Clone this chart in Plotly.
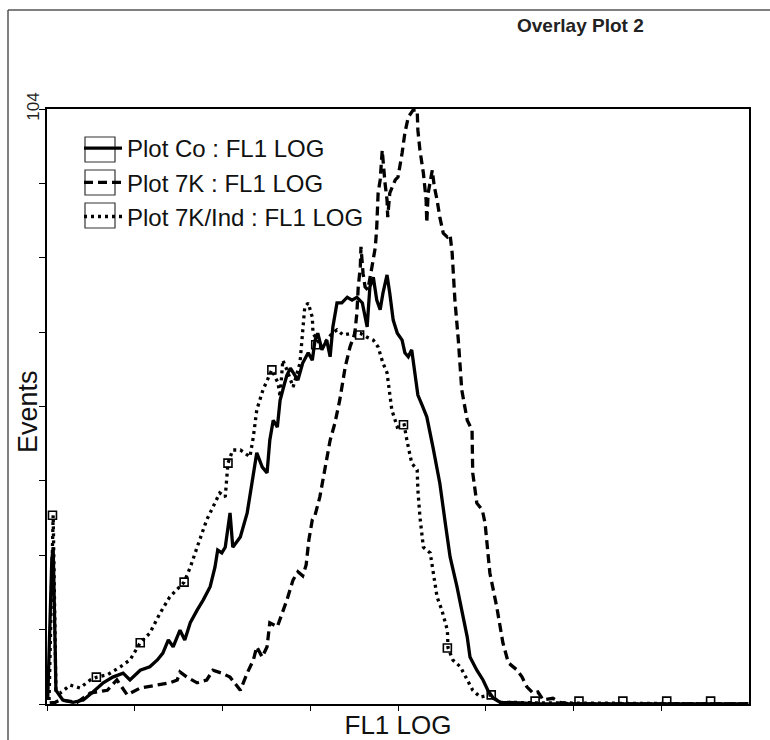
import plotly.graph_objects as go

# ---- data (channel 0-1023, events) ----
co_x = [1,4,7,9,10,12,13,16,23,38,53,67,82,96,111,121,136,150,161,169,177,184,194,201,209,219,228,238,245,249,255,260,267,271,282,292,301,306,314,321,325,330,336,340,346,350,355,359,366,373,381,387,391,395,401,408,413,417,423,430,438,445,452,460,464,467,471,476,481,486,490,496,500,505,511,518,522,527,532,537,541,547,554,563,573,581,588,598,607,613,617,627,636,643,651,661,690,719,1023]
co_y = [0.7,11.2,25.2,27.4,18.2,9.4,2.4,1.9,0.7,0.3,0.7,2.1,3.7,4.7,5.4,4.2,5.9,6.5,7.7,8.9,11.2,10.0,12.9,11.2,14.2,16.4,18.2,20.5,23.9,26.9,26.4,27.4,33.4,27.4,29.2,33.4,40.4,43.9,41.4,40.4,46.1,49.6,48.4,53.1,55.8,57.5,58.7,58.0,56.6,59.6,61.4,60.1,63.6,64.8,61.9,63.6,60.7,65.9,70.1,70.1,71.1,70.6,71.1,70.1,67.6,65.9,72.9,74.6,70.6,68.9,71.8,75.0,71.8,67.1,64.8,63.6,61.4,60.7,61.9,57.5,54.0,52.3,50.2,44.9,38.6,31.6,25.7,20.5,15.2,11.7,8.2,5.9,4.2,2.4,1.0,0.3,0.2,0,0]

k7_x = [4,12,19,44,63,88,102,117,136,161,179,190,194,204,219,233,242,255,267,282,292,301,306,314,321,325,336,350,359,366,373,378,382,387,391,398,406,413,420,427,435,442,449,452,454,457,458,461,464,468,474,479,481,483,486,489,493,496,497,500,508,512,518,522,527,534,540,541,544,549,553,554,556,562,565,569,573,578,584,588,591,595,600,605,613,620,621,627,635,639,646,656,665,673,686,693,700,709,716,724,738,748,763,1023]
k7_y = [0.2,0.3,0.7,0.3,1.9,2.4,4.2,1.6,2.8,3.3,3.7,4.2,5.6,4.7,3.7,4.2,5.9,5.4,4.7,2.4,5.4,7.7,10.0,8.2,10.0,14.2,13.5,18.2,21.7,23.1,22.4,24.3,28.7,32.2,33.0,36.2,41.4,46.1,49.1,53.1,58.9,62.4,64.8,68.3,72.9,76.4,79.9,75.3,72.9,72.4,76.4,79.9,83.4,89.3,91.6,96.8,91.1,88.1,85.1,89.3,91.6,92.1,96.3,99.8,102.6,103.8,103.8,100.3,96.8,92.8,88.1,84.1,89.3,93.3,90.4,88.1,85.1,82.3,81.6,82.0,78.8,70.6,63.6,54.9,49.6,47.9,40.4,35.1,33.9,31.6,22.9,17.0,10.7,7.2,5.9,4.7,3.0,1.9,2.1,0.7,1.0,0.3,0,0]

ind_x = [3,6,9,10,12,13,19,34,48,63,73,88,107,121,136,150,165,179,200,209,219,223,233,242,252,260,264,271,282,296,301,306,315,328,337,340,344,350,359,369,373,376,381,387,388,395,401,408,416,423,432,445,457,467,476,483,490,496,500,503,511,521,525,532,540,541,544,549,559,563,569,576,584,585,592,603,613,621,632,646,661,719,1023]
ind_y = [0.7,18.2,33.0,25.2,7.7,2.4,1.9,3.3,2.8,4.2,4.7,5.1,6.5,7.7,10.7,12.4,15.9,18.7,21.3,23.9,27.4,28.7,32.2,34.4,36.9,36.2,42.1,44.4,44.4,43.2,46.7,51.4,54.9,58.4,56.1,53.7,60.1,58.4,55.4,59.6,64.8,69.4,70.1,67.6,64.8,63.6,62.4,63.6,64.8,65.4,64.5,64.8,64.8,64.1,63.6,62.4,59.6,57.9,54.4,51.4,48.4,48.8,46.1,42.1,40.9,37.4,32.7,27.4,26.4,23.4,18.7,16.4,12.9,9.8,7.7,6.5,4.2,2.4,1.2,1.6,0.3,0.2,0]

mk_x = [8,72,136,200,264,328,392,456,520,584,648,712,776,840,904,968]
mk_y = [33.0,4.7,10.7,21.3,42.1,58.4,62.8,64.5,48.8,9.8,1.6,0.5,0.5,0.5,0.5,0.5]

series_names = ["Plot Co : FL1 LOG", "Plot 7K : FL1 LOG", "Plot 7K/Ind : FL1 LOG"]
y_tickvals = [0, 13, 26, 39, 52, 65, 78, 91, 104]
y_ticktext = ["", "", "", "", "", "", "", "", "104"]
x_tickvals = [0, 128, 256, 384, 512, 640, 768, 896]

fig = go.Figure()
fig.add_trace(go.Scatter(x=co_x, y=co_y, mode="lines", name=series_names[0],
                         line=dict(color="black", width=3.3, dash="solid")))
fig.add_trace(go.Scatter(x=k7_x, y=k7_y, mode="lines", name=series_names[1],
                         line=dict(color="black", width=3.3, dash="9px,5px")))
fig.add_trace(go.Scatter(x=ind_x, y=ind_y, mode="lines", name=series_names[2],
                         line=dict(color="black", width=3.3, dash="3px,4px")))
fig.add_trace(go.Scatter(x=mk_x, y=mk_y, mode="markers", showlegend=False,
                         marker=dict(symbol="square-open", size=8, color="black",
                                     line=dict(width=1.6, color="black"))))

# paper-coordinate helpers for the frame and legend boxes
def px_x(px):
    return (px - 47) / 702.0

def px_y(py):
    return (704 - py) / 595.0

shapes = [
    dict(type="line", xref="paper", yref="paper", x0=px_x(8), x1=px_x(8), y0=px_y(745), y1=px_y(10),
         line=dict(color="#555", width=1.5)),
    dict(type="line", xref="paper", yref="paper", x0=px_x(8), x1=px_x(775), y0=px_y(10), y1=px_y(10),
         line=dict(color="#555", width=1.5)),
]
for top, bot in [(137, 162), (170, 195), (203, 228)]:
    shapes.append(dict(type="rect", xref="paper", yref="paper",
                       x0=px_x(85), x1=px_x(115), y0=px_y(bot), y1=px_y(top),
                       line=dict(color="#333", width=1.2), fillcolor="rgba(0,0,0,0)"))

fig.update_layout(
    width=770, height=740,
    margin=dict(l=47, r=21, t=109, b=36),
    paper_bgcolor="white", plot_bgcolor="white",
    font=dict(family="Liberation Sans, Arial, sans-serif", color="#111"),
    shapes=shapes,
    showlegend=True,
    legend=dict(x=px_x(79), y=px_y(126), xanchor="left", yanchor="top",
                bgcolor="rgba(0,0,0,0)", borderwidth=0,
                font=dict(size=24, color="#111"),
                itemwidth=38, tracegroupgap=0),
    annotations=[
        dict(text="<b>Overlay Plot 2</b>", xref="paper", yref="paper",
             x=px_x(580), y=px_y(25), xanchor="center", yanchor="middle",
             showarrow=False,
             font=dict(family="Liberation Sans Narrow, Arial Narrow, sans-serif", size=19, color="#222")),
        dict(text="Events", xref="paper", yref="paper", textangle=-90,
             x=px_x(28), y=px_y(412), xanchor="center", yanchor="middle",
             showarrow=False, font=dict(size=27, color="#111")),
    ],
)
fig.update_xaxes(range=[0, 1024], showgrid=False, zeroline=False, automargin=False,
                 showline=True, mirror=True, linecolor="black", linewidth=2,
                 ticks="outside", ticklen=5, tickwidth=1.2, tickcolor="black",
                 tickvals=x_tickvals, showticklabels=False,
                 title=dict(text="FL1 LOG", font=dict(size=26, color="#111"), standoff=9))
fig.update_yaxes(range=[0, 104], showgrid=False, zeroline=False, automargin=False,
                 showline=True, mirror=True, linecolor="black", linewidth=2,
                 ticks="outside", ticklen=6, tickwidth=1.2, tickcolor="black",
                 tickvals=y_tickvals, ticktext=y_ticktext, tickangle=-90,
                 ticklabelstandoff=-7,
                 tickfont=dict(size=17, color="#222"))

fig.write_html("out.html")
